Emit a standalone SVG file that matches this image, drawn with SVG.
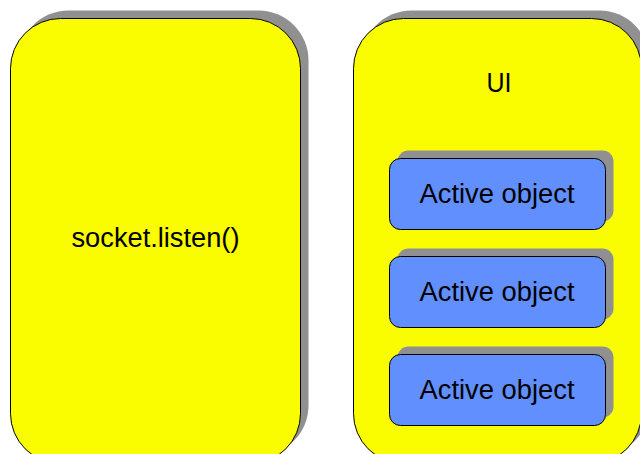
<svg xmlns="http://www.w3.org/2000/svg" width="640" height="454" viewBox="0 0 640 454">
<style>
.shadow{fill:#909090;stroke:none}
.big{fill:#fafc00;stroke:#000;stroke-width:1}
.obj{fill:#618ffd;stroke:#000;stroke-width:1}
text{font-family:"Liberation Sans","DejaVu Sans",sans-serif;fill:#000;text-anchor:middle}
.t1{font-size:27px}
</style>
<rect width="640" height="454" fill="#fff"/>
<g id="listener">
<rect class="shadow" x="18.5" y="10.5" width="290" height="445" rx="50" ry="50"/>
<rect class="big" x="10.5" y="18.5" width="290" height="445" rx="50" ry="50"/>
<text class="t1" x="155.5" y="247" textLength="168" lengthAdjust="spacingAndGlyphs">socket.listen()</text>
</g>
<g id="ui">
<rect class="shadow" x="361.5" y="10.5" width="288" height="445" rx="50" ry="50"/>
<rect class="big" x="353.5" y="18.5" width="288" height="445" rx="50" ry="50"/>
<text class="t1" x="499" y="92" textLength="25" lengthAdjust="spacingAndGlyphs">UI</text>
</g>
<g id="obj1">
<rect class="shadow" x="397.5" y="150.5" width="216" height="71" rx="11" ry="11"/>
<rect class="obj" x="389.5" y="158.5" width="216" height="71" rx="11" ry="11"/>
<text class="t1" x="497" y="203" textLength="155" lengthAdjust="spacingAndGlyphs">Active object</text>
</g>
<g id="obj2">
<rect class="shadow" x="397.5" y="248.5" width="216" height="71" rx="11" ry="11"/>
<rect class="obj" x="389.5" y="256.5" width="216" height="71" rx="11" ry="11"/>
<text class="t1" x="497" y="301" textLength="155" lengthAdjust="spacingAndGlyphs">Active object</text>
</g>
<g id="obj3">
<rect class="shadow" x="397.5" y="346.5" width="216" height="71" rx="11" ry="11"/>
<rect class="obj" x="389.5" y="354.5" width="216" height="71" rx="11" ry="11"/>
<text class="t1" x="497" y="399" textLength="155" lengthAdjust="spacingAndGlyphs">Active object</text>
</g>
<g id="connectors"/>
</svg>
